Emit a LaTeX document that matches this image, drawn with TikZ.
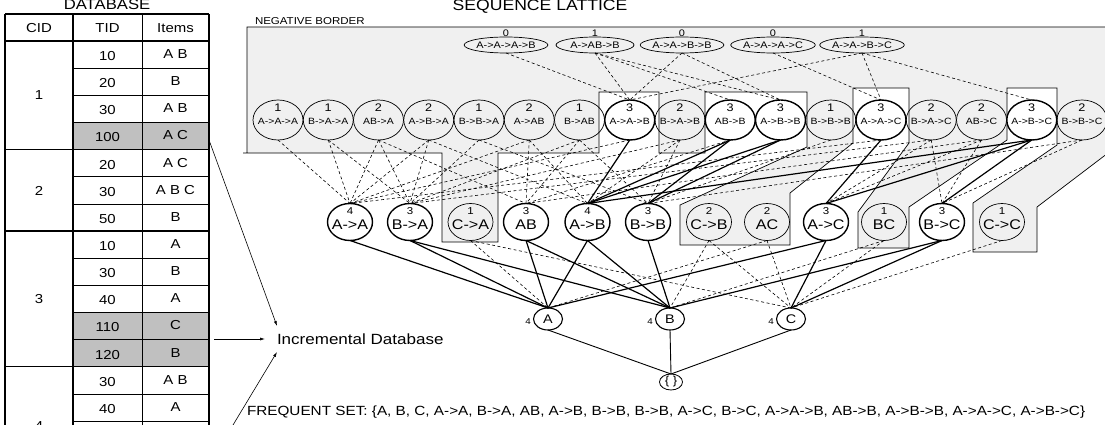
\documentclass[tikz,border=0pt]{standalone}
\usepackage{fontspec}
\setmainfont{Liberation Sans}[FakeStretch=1.15]
\usetikzlibrary{shapes.geometric,arrows.meta}
\definecolor{bordergray}{HTML}{F0F0F0}
\definecolor{newrow}{HTML}{C0C0C0}
\newcommand{\fsz}[1]{\fontsize{#1}{#1}\selectfont}
\begin{document}
\begin{tikzpicture}[x=1pt,y=-1pt,
  every node/.style={inner sep=0pt,outer sep=0pt},
  thickline/.style={line width=1.3pt},
  thinline/.style={line width=0.6pt},
  dedge/.style={line width=0.6pt,dash pattern=on 3pt off 2.5pt},
  sedge/.style={line width=1.2pt},
  arr/.style={line width=0.6pt,-{Latex[length=5pt,width=3pt]}},
  topn/.style={ellipse,draw,line width=0.7pt,minimum width=78pt,minimum height=16pt,font=\fsz{9.5}},
  midn/.style={ellipse,draw,line width=0.7pt,minimum width=50pt,minimum height=40pt},
  midb/.style={midn,line width=1.4pt,fill=white},
  secn/.style={ellipse,draw,line width=0.7pt,minimum width=45pt,minimum height=37pt},
  secb/.style={secn,line width=1.4pt,fill=white},
  botn/.style={ellipse,draw,line width=1.1pt,minimum width=29pt,minimum height=22pt,fill=white,font=\fsz{12.5}},
  tabtxt/.style={font=\fsz{13}},
  lbl/.style={font=\fsz{9.5}}
]
\useasboundingbox (0,0) rectangle (1105,425);

% ---------------- database table ----------------
\fill[newrow] (73,122.45) rectangle (209,149.6);
\fill[newrow] (73,312.5) rectangle (209,366.8);
\foreach \i in {1,2,3,5,6,8,9,10,11,13,14}{
  \draw[thinline] (73,41+\i*27.15) -- (209,41+\i*27.15);
}
\foreach \i in {4,7,12}{
  \draw[thickline] (5,41+\i*27.15) -- (209,41+\i*27.15);
}
\draw[thickline] (5,14) -- (209,14);
\draw[thickline] (5,41) -- (209,41);
\draw[thickline] (5,14) -- (5,430);
\draw[thickline] (73,14) -- (73,430);
\draw[thinline] (142,14) -- (142,430);
\draw[thickline] (209,14) -- (209,430);
\node[tabtxt] (hcid) at (39,28) {CID};
\node[tabtxt] (htid) at (107.5,28) {TID};
\node[tabtxt] (hitm) at (175.5,28) {Items};
\foreach \i/\t/\s in {0/10/A B,1/20/B,2/30/A B,3/100/A C,4/20/A C,5/30/A B C,6/50/B,7/10/A,8/30/B,9/40/A,10/110/C,11/120/B,12/30/A B,13/40/A}{
  \node[tabtxt] (tid\i) at (107.5,41+\i*27.15+15) {\t};
  \node[tabtxt] (itm\i) at (175.5,41+\i*27.15+13) {\s};
}
\node[tabtxt] (cid1) at (39,95.5) {1};
\node[tabtxt] (cid2) at (39,190.5) {2};
\node[tabtxt] (cid3) at (39,299) {3};
\node[tabtxt] (cid4) at (39,426) {4};
\node[font=\fsz{14.5},anchor=base] (dbtitle) at (107,9.5) {DATABASE};

% ---------------- incremental database ----------------
\node[font=\fsz{14.8},anchor=west] (inc) at (277,339) {Incremental Database};
\coordinate (s1) at (209,140);
\coordinate (e1) at (277,326);
\coordinate (s2) at (214,339);
\coordinate (e2) at (265,339);
\coordinate (s3) at (233,425);
\coordinate (e3) at (277,352);
\draw[arr] (s1) -- (e1);
\draw[arr] (s2) -- (e2);
\draw[arr] (s3) -- (e3);

% ---------------- lattice ----------------
\node[font=\fsz{15.3},anchor=base] (lattitle) at (540,10.5) {SEQUENCE LATTICE};
\filldraw[fill=bordergray,draw=black,line width=0.7pt]
  (247,27) -- (1112,27) -- (1112,150) -- (1037,207) -- (1037,252) -- (973,252) -- (973,203)
  -- (1057,145) -- (1057,88) -- (1007,88) -- (1007,140) -- (909,207) -- (909,248)
  -- (858,248) -- (858,212) -- (909,143) -- (909,88) -- (853,88) -- (853,143)
  -- (790,193) -- (790,245) -- (680,245) -- (680,205) -- (807,147) -- (807,92)
  -- (705,92) -- (705,153) -- (659,153) -- (659,92) -- (599,92) -- (599,153)
  -- (498,153) -- (498,242) -- (442,242) -- (442,153) -- (243,153) -- (247,153) -- cycle;
\node[font=\fsz{10},anchor=base west] (negb) at (255,25) {NEGATIVE BORDER};

% top row
\foreach \k/\x/\t/\c in {1/506/A->A->A->B/0,2/595/A->AB->B/1,3/682/A->A->B->B/0,4/773/A->A->A->C/0,5/862/A->A->B->C/1}{
  \node[topn] (t\k) at (\x,45) {\t};
  \node[lbl] (tc\k) at (\x,33) {\c};
}

% middle row
\foreach \k/\t/\c/\s in {1/A->A->A/1/midn,2/B->A->A/1/midn,3/AB->A/2/midn,4/A->B->A/2/midn,5/B->B->A/1/midn,6/A->AB/2/midn,7/B->AB/1/midn,8/A->A->B/3/midb,9/B->A->B/2/midn,10/AB->B/3/midb,11/A->B->B/3/midb,12/B->B->B/1/midn,13/A->A->C/3/midb,14/B->A->C/2/midn,15/AB->C/2/midn,16/A->B->C/3/midb,17/B->B->C/2/midn}{
  \pgfmathsetmacro{\xx}{278+50.25*(\k-1)}
  \node[\s] (m\k) at (\xx,120) {};
  \node[font=\fsz{11}] (mc\k) at (\xx,108) {\c};
  \node[font=\fsz{9.1}] (mt\k) at (\xx,121) {\t};
}

% second row
\foreach \k/\x/\t/\c/\s in {1/350/A->A/4/secb,2/410/B->A/3/secb,3/470.5/C->A/1/secn,4/526/AB/3/secb,5/587.5/A->B/4/secb,6/648/B->B/3/secb,7/709/C->B/2/secn,8/767/AC/2/secn,9/826/A->C/3/secb,10/884/BC/1/secn,11/942/B->C/3/secb,12/1002/C->C/1/secn}{
  \node[\s] (a\k) at (\x,222) {};
  \node[font=\fsz{10}] (ac\k) at (\x,211) {\c};
  \node[font=\fsz{14}] (at\k) at (\x,224.5) {\t};
}

% bottom row
\node[botn] (bA) at (548,319) {A};
\node[botn] (bB) at (670,319) {B};
\node[botn] (bC) at (791,319) {C};
\node[font=\fsz{8.5}] (nA) at (528,322) {4};
\node[font=\fsz{8.5}] (nB) at (650,322) {4};
\node[font=\fsz{8.5}] (nC) at (771,322) {4};
\node[ellipse,draw,line width=0.8pt,minimum width=23pt,minimum height=16pt,font=\fsz{11.5}] (root) at (671,382) {\{ \}};

% edges top -> middle
\foreach \a/\b in {1/8,2/8,2/10,2/11,3/8,3/11,4/13,5/8,5/13,5/16}{
  \draw[dedge] (t\a.south) -- (m\b.north);
}
% edges middle -> second
\foreach \a/\b in {1/1,2/1,2/2,3/1,3/2,3/4,4/5,4/2,4/1,5/6,5/2,6/1,6/5,6/4,7/2,7/6,7/4,8/1,9/2,9/6,9/5,10/4,12/6,13/1,14/2,14/11,14/9,15/4,15/9,15/11,17/6,17/11}{
  \draw[dedge] (m\a.south) -- (a\b.north);
}
\foreach \a/\b in {8/5,10/5,10/6,11/5,11/6,13/9,16/5,16/9,16/11}{
  \draw[sedge] (m\a.south) -- (a\b.north);
}
% edges second -> bottom
\foreach \a/\b in {1/A,2/A,2/B,4/A,4/B,5/A,5/B,6/B,9/A,9/C,11/B,11/C}{
  \draw[sedge] (a\a.south) -- (b\b.north);
}
\foreach \a/\b in {3/A,3/C,7/B,7/C,8/A,8/C,10/B,10/C,12/C}{
  \draw[dedge] (a\a.south) -- (b\b.north);
}
% bottom -> root
\foreach \b in {A,B,C}{
  \draw[line width=0.9pt] (b\b.south) -- (root.north);
}

\node[font=\fsz{13.3},anchor=west] (fset) at (247,412) {FREQUENT SET: \{A, B, C, A->A, B->A, AB, A->B, B->B, B->B, A->C, B->C, A->A->B, AB->B, A->B->B, A->A->C, A->B->C\}};
\end{tikzpicture}
\end{document}
